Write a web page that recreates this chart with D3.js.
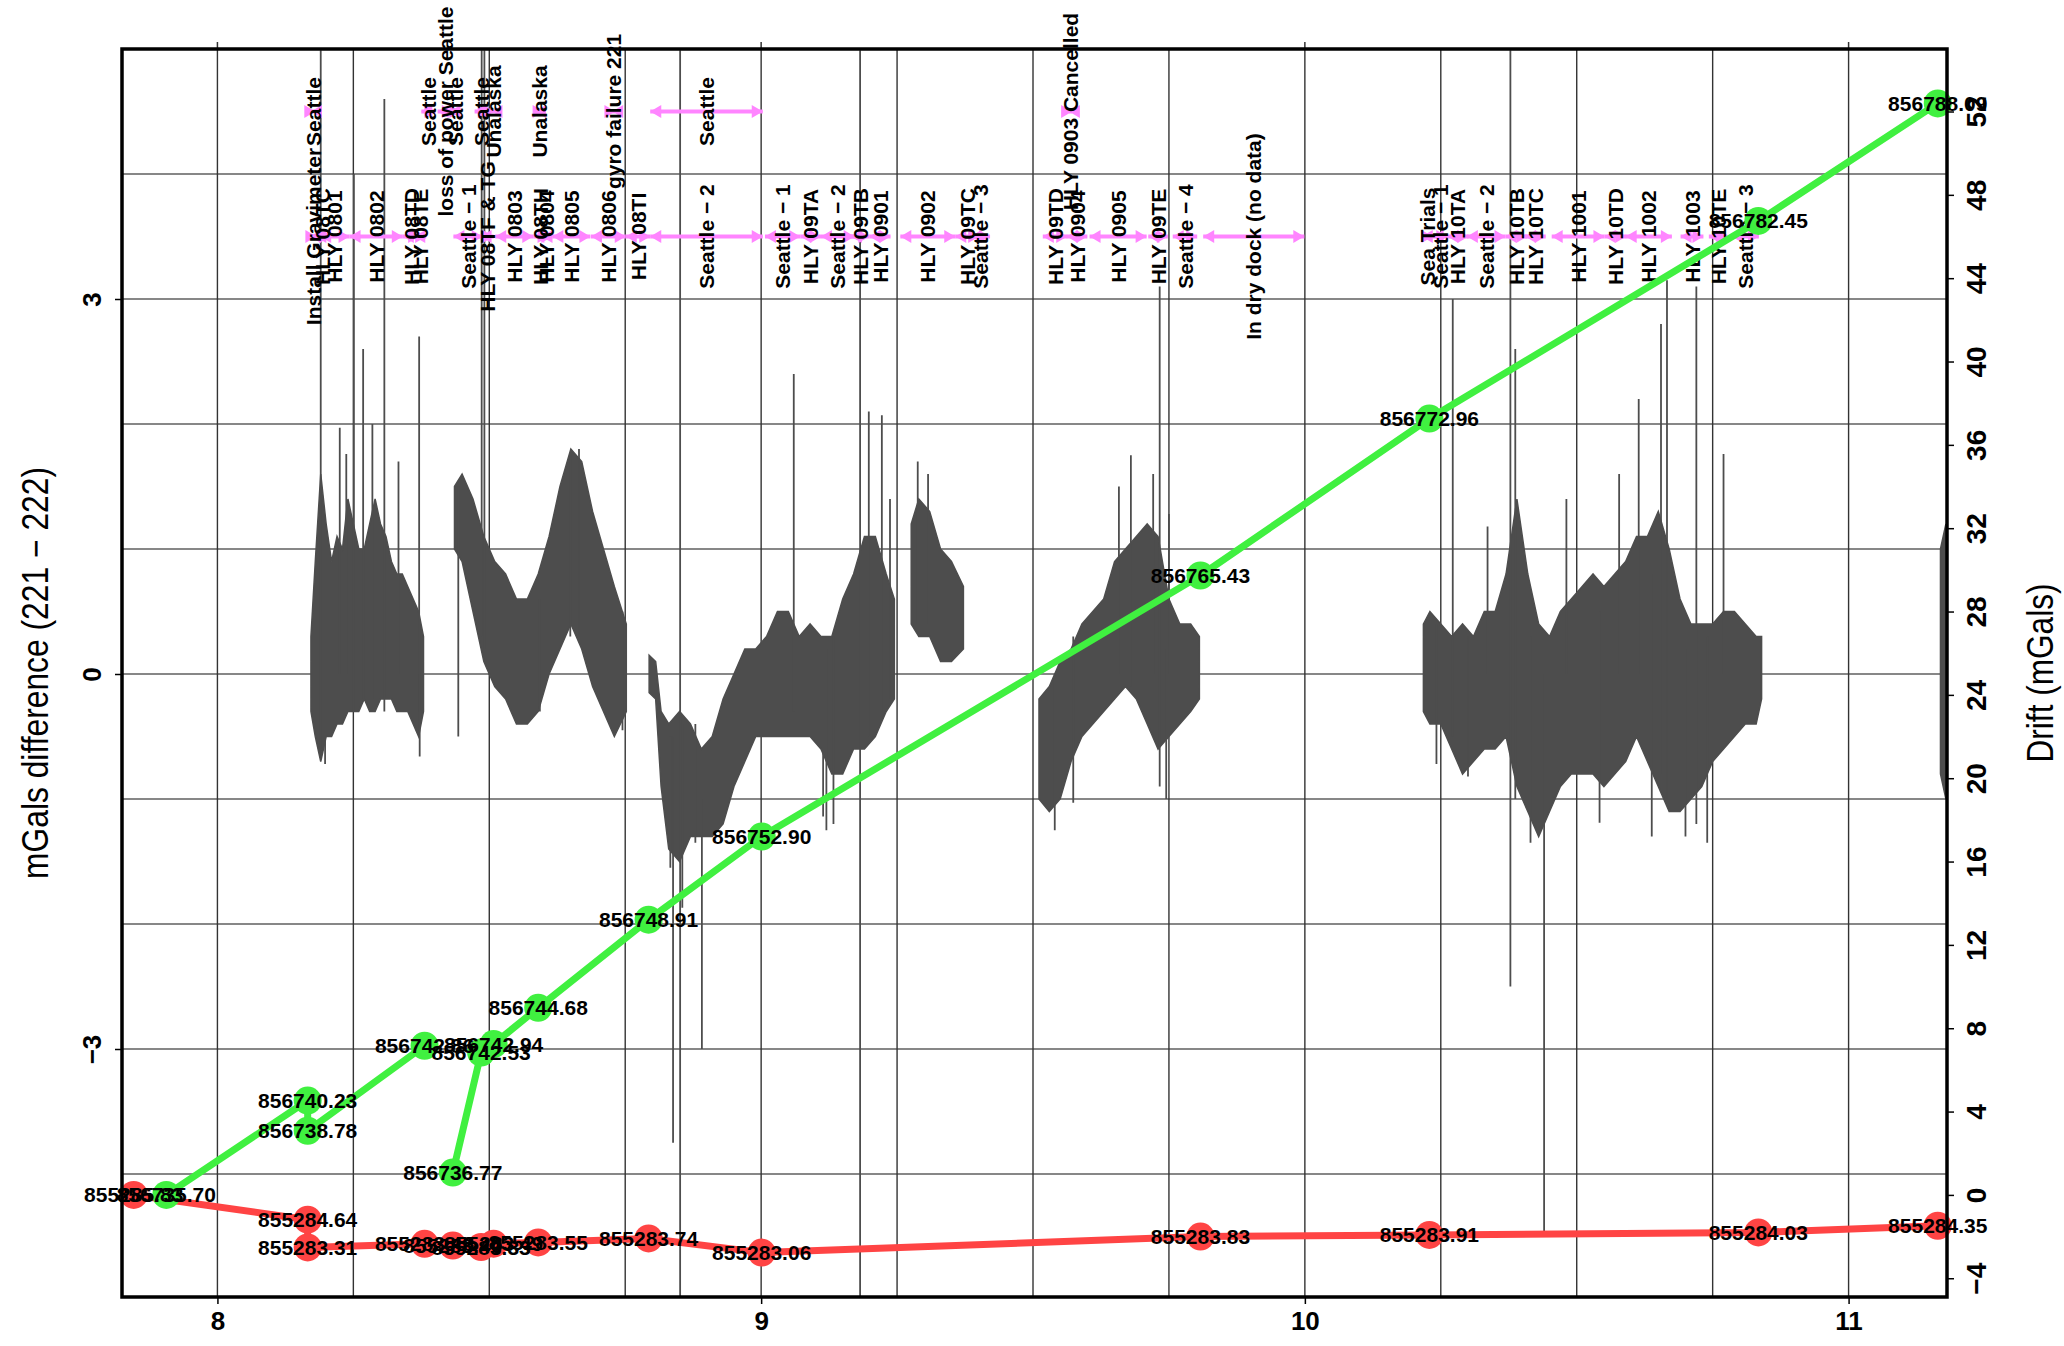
<!DOCTYPE html>
<html>
<head>
<meta charset="utf-8">
<script src="https://cdn.jsdelivr.net/npm/d3@7"></script>
<style>
  body { margin: 0; background: #fff; }
  text { font-family: "Liberation Sans", Arial, Helvetica, sans-serif; }
</style>
</head>
<body>
<script>
// ---------- axis ticks ----------
const xTicks = [8, 9, 10, 11];
const leftTicks = [-3, 0, 3];
const rightTicks = [-4, 0, 4, 8, 12, 16, 20, 24, 28, 32, 36, 40, 44, 48, 52];
const gridLevels = [-4, -3, -2, -1, 0, 1, 2, 3, 4];
const gridDates = [8, 8.25, 8.5, 8.75, 9, 9.25, 9.5, 9.75, 10, 10.25, 10.5, 10.75, 11];

// ---------- gravimeter 221 - 222 difference (envelope of the record) ----------
const noiseX = [
  8.172, 8.18, 8.19, 8.20, 8.21, 8.22, 8.23, 8.24, 8.25, 8.26, 8.27, 8.28, 8.29, 8.30, 8.31, 8.32, 8.33, 8.34, 8.35, 8.36, 8.37, 8.379, null,
  8.436, 8.45, 8.47, 8.49, 8.51, 8.53, 8.55, 8.57, 8.59, 8.61, 8.63, 8.65, 8.67, 8.69, 8.71, 8.73, 8.752, null,
  8.794, 8.806, 8.816, 8.83, 8.85, 8.87, 8.89, 8.91, 8.93, 8.95, 8.97, 8.99, 9.01, 9.03, 9.05, 9.07, 9.09, 9.11, 9.13, 9.15, 9.17, 9.19, 9.21, 9.23, 9.245, null,
  9.276, 9.29, 9.31, 9.33, 9.35, 9.372, null,
  9.511, 9.53, 9.55, 9.57, 9.59, 9.61, 9.63, 9.65, 9.67, 9.69, 9.71, 9.73, 9.75, 9.77, 9.79, 9.806, null,
  10.218, 10.23, 10.25, 10.27, 10.29, 10.31, 10.33, 10.35, 10.37, 10.39, 10.41, 10.43, 10.45, 10.47, 10.49, 10.51, 10.53, 10.55, 10.57, 10.59, 10.61, 10.63, 10.65, 10.67, 10.69, 10.71, 10.73, 10.75, 10.77, 10.79, 10.81, 10.83, 10.84, null,
  11.169, 11.179
];
const noiseHi = [
  0.3, 0.9, 1.6, 1.2, 0.9, 1.1, 1.0, 1.4, 1.2, 1.0, 1.0, 1.2, 1.4, 1.2, 1.1, 0.9, 0.8, 0.8, 0.7, 0.6, 0.5, 0.3, null,
  1.5, 1.6, 1.4, 1.1, 0.9, 0.8, 0.6, 0.6, 0.8, 1.1, 1.5, 1.8, 1.7, 1.3, 1.0, 0.7, 0.4, null,
  0.15, 0.1, -0.3, -0.4, -0.3, -0.4, -0.6, -0.5, -0.2, 0.0, 0.2, 0.2, 0.3, 0.5, 0.5, 0.3, 0.4, 0.3, 0.3, 0.6, 0.8, 1.1, 1.1, 0.8, 0.6, null,
  1.2, 1.4, 1.3, 1.0, 0.9, 0.7, null,
  -0.2, -0.1, 0.1, 0.2, 0.4, 0.5, 0.6, 0.9, 1.0, 1.1, 1.2, 1.1, 0.6, 0.4, 0.4, 0.3, null,
  0.4, 0.5, 0.4, 0.3, 0.4, 0.3, 0.5, 0.5, 0.8, 1.4, 0.8, 0.4, 0.3, 0.5, 0.6, 0.7, 0.8, 0.7, 0.8, 0.9, 1.1, 1.1, 1.3, 1.0, 0.6, 0.4, 0.4, 0.4, 0.5, 0.5, 0.4, 0.3, 0.3, null,
  1.0, 1.2
];
const noiseLo = [
  -0.3, -0.5, -0.7, -0.5, -0.5, -0.4, -0.4, -0.3, -0.3, -0.3, -0.2, -0.3, -0.3, -0.2, -0.2, -0.2, -0.3, -0.3, -0.3, -0.4, -0.5, -0.3, null,
  1.0, 0.9, 0.5, 0.1, -0.1, -0.2, -0.4, -0.4, -0.3, 0.0, 0.2, 0.4, 0.2, -0.1, -0.3, -0.5, -0.3, null,
  -0.15, -0.2, -0.9, -1.4, -1.5, -1.3, -1.3, -1.3, -1.2, -0.9, -0.7, -0.5, -0.5, -0.5, -0.5, -0.5, -0.5, -0.6, -0.8, -0.8, -0.6, -0.6, -0.5, -0.3, -0.2, null,
  0.4, 0.3, 0.3, 0.1, 0.1, 0.2, null,
  -1.0, -1.1, -1.0, -0.7, -0.5, -0.4, -0.3, -0.2, -0.1, -0.2, -0.4, -0.6, -0.5, -0.4, -0.3, -0.2, null,
  -0.3, -0.4, -0.4, -0.6, -0.8, -0.7, -0.6, -0.6, -0.5, -0.9, -1.1, -1.3, -1.1, -0.9, -0.8, -0.8, -0.8, -0.9, -0.8, -0.7, -0.5, -0.7, -0.9, -1.1, -1.1, -1.0, -0.9, -0.7, -0.6, -0.5, -0.4, -0.4, -0.2, null,
  -0.8, -1.0
];
// isolated excursions of the difference record
const spikeX  = [8.190, 8.198, 8.225, 8.237, 8.251, 8.268, 8.285, 8.307, 8.333, 8.371, 8.372,
                 8.443, 8.486, 8.491, 8.593, 8.649, 8.665, 8.745,
                 8.833, 8.838, 8.851, 8.855, 8.879, 8.891, 9.060, 9.114, 9.120, 9.133, 9.182, 9.198, 9.222, 9.237, 9.288, 9.307,
                 9.540, 9.574, 9.658, 9.680, 9.721, 9.733, 9.745, 9.750,
                 10.242, 10.272, 10.300, 10.336, 10.378, 10.387, 10.415, 10.440, 10.481, 10.542, 10.578, 10.614, 10.638, 10.655, 10.666, 10.700, 10.720, 10.740, 10.770];
const spikeLo = [-0.6, -0.72, 0.0, 0.0, -0.3, -0.2, -0.2, -0.3, 0.0, -0.3, -0.66,
                 -0.5, 0.3, 0.2, -0.3, 0.3, 0.3, -0.45,
                 -1.55, -3.75, -4.98, -1.87, -1.35, -3.0, -0.3, -1.14, -1.25, -1.2, -4.98, -0.5, -0.3, -0.2, 0.4, 0.4,
                 -1.25, -1.03, 0.0, -0.1, 0.0, -0.9, -1.0, 0.0,
                 -0.72, -0.5, -0.82, 0.0, -2.5, -1.0, -1.35, -4.5, 0.0, -1.19, 0.0, 0.0, -1.3, -0.8, -1.0, -1.3, -1.2, -1.35, 0.0];
const spikeHi = [4.99, 0.0, 1.97, 1.76, 4.0, 2.6, 2.0, 4.6, 1.7, 2.7, 0.0,
                 1.5, 4.99, 4.99, 0.6, 1.76, 1.8, 0.5,
                 -0.5, -0.5, 4.99, -0.4, -0.4, -1.0, 2.4, 0.3, 0.2, 0.3, 4.99, 2.1, 2.07, 1.4, 1.7, 1.6,
                 0.0, 0.3, 1.5, 1.75, 1.6, 3.1, 0.2, 1.28,
                 0.4, 3.0, 0.3, 1.18, 4.99, 2.6, 0.3, 0.0, 1.4, 0.5, 1.6, 2.2, 0.8, 2.8, 3.15, 0.2, 3.1, 0.3, 1.76];

// ---------- cruise / port timeline ----------
const legStart = [8.170, 8.180, 8.189, 8.243, 8.341, 8.362, 8.434, 8.484, 8.511, 8.581, 8.596, 8.616, 8.687, 8.751, 8.796, 9.007, 9.072, 9.110, 9.165, 9.199, 9.256, 9.357, 9.385, 9.518, 9.562, 9.604, 9.712, 9.757, 9.813, 10.215, 10.235, 10.262, 10.298, 10.369, 10.405, 10.454, 10.551, 10.590, 10.691, 10.743, 10.785];
const legEnd   = [8.182, 8.208, 8.243, 8.341, 8.371, 8.384, 8.488, 8.508, 8.581, 8.609, 8.616, 8.686, 8.751, 8.796, 9.003, 9.072, 9.110, 9.172, 9.199, 9.238, 9.357, 9.401, 9.421, 9.563, 9.600, 9.709, 9.748, 9.802, 9.999, 10.235, 10.262, 10.301, 10.369, 10.409, 10.443, 10.551, 10.591, 10.675, 10.733, 10.777, 10.835];
const legLabel = ["Install Gravimeter", "HLY 08TC", "HLY 0801", "HLY 0802", "HLY 08TD", "HLY 08TE", "Seattle \u2212 1", "HLY 08TF & TG", "HLY 0803", "HLY 08TH", "HLY 0804", "HLY 0805", "HLY 0806", "HLY 08TI", "Seattle \u2212 2", "Seattle \u2212 1", "HLY 09TA", "Seattle \u2212 2", "HLY 09TB", "HLY 0901", "HLY 0902", "HLY 09TC", "Seattle \u2212 3", "HLY 09TD", "HLY 0904", "HLY 0905", "HLY 09TE", "Seattle \u2212 4", "In dry dock (no data)", "Sea Trials", "Seattle \u2212 1", "HLY 10TA", "Seattle \u2212 2", "HLY 10TB", "HLY 10TC", "HLY 1001", "HLY 10TD", "HLY 1002", "HLY 1003", "HLY 10TE", "Seattle \u2212 3"];

const noteStart = [8.172, 8.375, 8.405, 8.427, 8.473, 8.504, 8.584, 8.726, 8.796, 9.566];
const noteEnd   = [8.180, 8.401, 8.433, 8.447, 8.499, 8.510, 8.600, 8.732, 9.003, 9.572];
const noteLabel = ["Seattle", "Seattle", "loss of power Seattle", "Seattle", "Seattle", "Unalaska", "Unalaska", "gyro failure 221", "Seattle", "HLY 0903 Cancelled"];

// ---------- gravimeter readings at tie points ----------
const greenDates    = [7.906, 8.166, 8.166, 8.381, 8.433, 8.485, 8.508, 8.590, 8.793, 9.001, 9.808, 10.229, 10.834, 11.164];
const greenReadings = [856735.70, 856740.23, 856738.78, 856742.86, 856736.77, 856742.53, 856742.94, 856744.68, 856748.91, 856752.90, 856765.43, 856772.96, 856782.45, 856788.09];
const greenRun      = [0, 0, 0, 0, 1, 1, 1, 1, 1, 1, 1, 1, 1, 1];

const redDates    = [7.846, 8.166, 8.166, 8.381, 8.433, 8.485, 8.508, 8.590, 8.793, 9.001, 9.808, 10.229, 10.834, 11.164];
const redReadings = [855285.83, 855284.64, 855283.31, 855283.48, 855283.40, 855283.33, 855283.49, 855283.55, 855283.74, 855283.06, 855283.83, 855283.91, 855284.03, 855284.35];

// ---------- layout ----------
const W = 2064, H = 1346;
const box = { left: 122, right: 1947, top: 49, bottom: 1297 };
const ink = "#000";
const traceColor = "#4d4d4d";
const legColor = "#ff85ff";
const greenColor = "#40f040";
const redColor = "#ff4444";

const svg = d3.select("body").append("svg").attr("width", W).attr("height", H);

const x  = d3.scaleLinear().domain([7.8245, 11.181]).range([box.left, box.right]);
const yL = d3.scaleLinear().domain([-4.984, 5.0]).range([box.bottom, box.top]);
const yR = d3.scaleLinear().domain([-4.9, 55.0]).range([box.bottom, box.top]);

// ---------- grid ----------
const grid = svg.append("g");
grid.selectAll("line.h").data(gridLevels).join("line")
  .attr("x1", box.left).attr("x2", box.right)
  .attr("y1", d => yL(d)).attr("y2", d => yL(d))
  .attr("stroke", "#111").attr("stroke-width", 1.1);
grid.selectAll("line.v").data(gridDates).join("line")
  .attr("x1", d => x(d)).attr("x2", d => x(d))
  .attr("y1", box.top).attr("y2", box.bottom)
  .attr("stroke", "#333").attr("stroke-width", 1.4);

// ---------- difference record ----------
svg.append("clipPath").attr("id", "plotclip").append("rect")
  .attr("x", box.left).attr("y", box.top)
  .attr("width", box.right - box.left).attr("height", box.bottom - box.top);

const traceG = svg.append("g").attr("clip-path", "url(#plotclip)");
const noise = noiseX.map((d, i) => ({ x: d, hi: noiseHi[i], lo: noiseLo[i] }));
traceG.append("path")
  .datum(noise)
  .attr("d", d3.area().defined(d => d.x !== null)
    .x(d => x(d.x)).y0(d => yL(d.lo)).y1(d => yL(d.hi)))
  .attr("fill", traceColor)
  .attr("stroke", traceColor).attr("stroke-width", 1.5).attr("stroke-linejoin", "miter");

traceG.selectAll("line.spike").data(spikeX.map((d, i) => ({ x: d, lo: spikeLo[i], hi: spikeHi[i] })))
  .join("line")
  .attr("x1", d => x(d.x)).attr("x2", d => x(d.x))
  .attr("y1", d => yL(d.lo)).attr("y2", d => yL(d.hi))
  .attr("stroke", traceColor).attr("stroke-width", 1.8);

// ---------- timeline arrows and labels ----------
function drawTimeline(starts, ends, labels, level) {
  const g = svg.append("g");
  const yy = yL(level);
  const rows = starts.map((s, i) => ({ s, e: ends[i], label: labels[i] }));
  g.selectAll("line").data(rows).join("line")
    .attr("x1", d => x(d.s)).attr("x2", d => x(d.e))
    .attr("y1", yy).attr("y2", yy)
    .attr("stroke", legColor).attr("stroke-width", 4);
  const head = (px, dir) => {
    const L = 11, hw = 6.5;
    return `M${px},${yy} L${px - dir * L},${yy - hw} L${px - dir * L},${yy + hw} Z`;
  };
  g.selectAll("path.l").data(rows).join("path")
    .attr("d", d => head(x(d.s), -1)).attr("fill", legColor);
  g.selectAll("path.r").data(rows).join("path")
    .attr("d", d => head(x(d.e), 1)).attr("fill", legColor);
  return rows;
}
const legRows = drawTimeline(legStart, legEnd, legLabel, 3.5);
const noteRows = drawTimeline(noteStart, noteEnd, noteLabel, 4.5);

function drawTimelineText(rows, level) {
  svg.append("g").selectAll("text").data(rows).join("text")
    .attr("transform", d => `translate(${x((d.s + d.e) / 2)},${yL(level)}) rotate(-90)`)
    .attr("text-anchor", "middle")
    .attr("dy", "0.36em")
    .attr("font-size", 21).attr("font-weight", "bold").attr("fill", ink)
    .text(d => d.label);
}
drawTimelineText(legRows, 3.5);
drawTimelineText(noteRows, 4.5);

// ---------- drift lines ----------
const greenPts = greenDates.map((d, i) => ({ x: d, v: greenReadings[i], drift: greenReadings[i] - greenReadings[0], run: greenRun[i] }));
const redPts = redDates.map((d, i) => ({ x: d, v: redReadings[i], drift: redReadings[i] - redReadings[0] }));

const driftLine = d3.line().x(d => x(d.x)).y(d => yR(d.drift));
svg.append("path").datum(redPts).attr("d", driftLine)
  .attr("fill", "none").attr("stroke", redColor).attr("stroke-width", 7).attr("stroke-linejoin", "round");
d3.groups(greenPts, d => d.run).forEach(([, pts]) => {
  svg.append("path").datum(pts).attr("d", driftLine)
    .attr("fill", "none").attr("stroke", greenColor).attr("stroke-width", 7).attr("stroke-linejoin", "round");
});

svg.append("g").selectAll("circle").data(redPts).join("circle")
  .attr("cx", d => x(d.x)).attr("cy", d => yR(d.drift)).attr("r", 14).attr("fill", redColor);
svg.append("g").selectAll("circle").data(greenPts).join("circle")
  .attr("cx", d => x(d.x)).attr("cy", d => yR(d.drift)).attr("r", 14).attr("fill", greenColor);

const fmt = d3.format(".2f");
svg.append("g").selectAll("text").data(redPts.concat(greenPts)).join("text")
  .attr("x", d => x(d.x)).attr("y", d => yR(d.drift)).attr("dy", "0.36em")
  .attr("text-anchor", "middle")
  .attr("font-size", 21).attr("font-weight", "bold").attr("fill", ink)
  .text(d => fmt(d.v));

// ---------- axes ----------
const axB = svg.append("g").attr("transform", `translate(0,${box.bottom})`)
  .call(d3.axisBottom(x).tickValues(xTicks).tickFormat(d3.format("d")).tickSize(7).tickSizeOuter(0));
axB.select(".domain").remove();
axB.selectAll("line").attr("stroke", ink).attr("stroke-width", 1.5);
axB.selectAll("text").attr("y", 15).attr("font-size", 26).attr("font-weight", "bold")
  .attr("font-family", '"Liberation Sans", Arial, sans-serif').attr("fill", ink);

// tick marks on the top edge at the year marks
svg.append("g").selectAll("line").data(xTicks).join("line")
  .attr("x1", d => x(d)).attr("x2", d => x(d))
  .attr("y1", box.top - 7).attr("y2", box.top)
  .attr("stroke", "#333").attr("stroke-width", 1.5);

const minusFmt = d => d < 0 ? "\u2212" + Math.abs(d) : String(d);

const axL = svg.append("g").attr("transform", `translate(${box.left},0)`)
  .call(d3.axisLeft(yL).tickValues(leftTicks).tickFormat(minusFmt).tickSize(7).tickSizeOuter(0));
axL.select(".domain").remove();
axL.selectAll("line").attr("stroke", ink).attr("stroke-width", 1.5);
axL.selectAll("text")
  .attr("x", 0).attr("y", -30).attr("dy", "0.36em")
  .attr("transform", "rotate(-90)").attr("text-anchor", "middle")
  .attr("font-size", 26).attr("font-weight", "bold")
  .attr("font-family", '"Liberation Sans", Arial, sans-serif').attr("fill", ink);

const axR = svg.append("g").attr("transform", `translate(${box.right},0)`)
  .call(d3.axisRight(yR).tickValues(rightTicks).tickFormat(minusFmt).tickSize(7).tickSizeOuter(0));
axR.select(".domain").remove();
axR.selectAll("line").attr("stroke", ink).attr("stroke-width", 1.5);
axR.selectAll("text")
  .attr("x", 0).attr("y", 29).attr("dy", "0.36em")
  .attr("transform", "rotate(-90)").attr("text-anchor", "middle")
  .attr("font-size", 28).attr("font-weight", "bold")
  .attr("font-family", '"Liberation Sans", Arial, sans-serif').attr("fill", ink);

// plot frame
svg.append("rect")
  .attr("x", box.left).attr("y", box.top)
  .attr("width", box.right - box.left).attr("height", box.bottom - box.top)
  .attr("fill", "none").attr("stroke", ink).attr("stroke-width", 3.5);

// axis titles (condensed face)
svg.append("text")
  .attr("transform", `translate(35,${(box.top + box.bottom) / 2}) rotate(-90)`)
  .attr("text-anchor", "middle").attr("dy", "0.36em")
  .attr("font-size", 36).attr("fill", ink)
  .attr("textLength", 412).attr("lengthAdjust", "spacingAndGlyphs")
  .text("mGals difference (221 \u2212 222)");
svg.append("text")
  .attr("transform", `translate(2040,${(box.top + box.bottom) / 2}) rotate(-90)`)
  .attr("text-anchor", "middle").attr("dy", "0.36em")
  .attr("font-size", 36).attr("fill", ink)
  .attr("textLength", 179).attr("lengthAdjust", "spacingAndGlyphs")
  .text("Drift (mGals)");
</script>
</body>
</html>
